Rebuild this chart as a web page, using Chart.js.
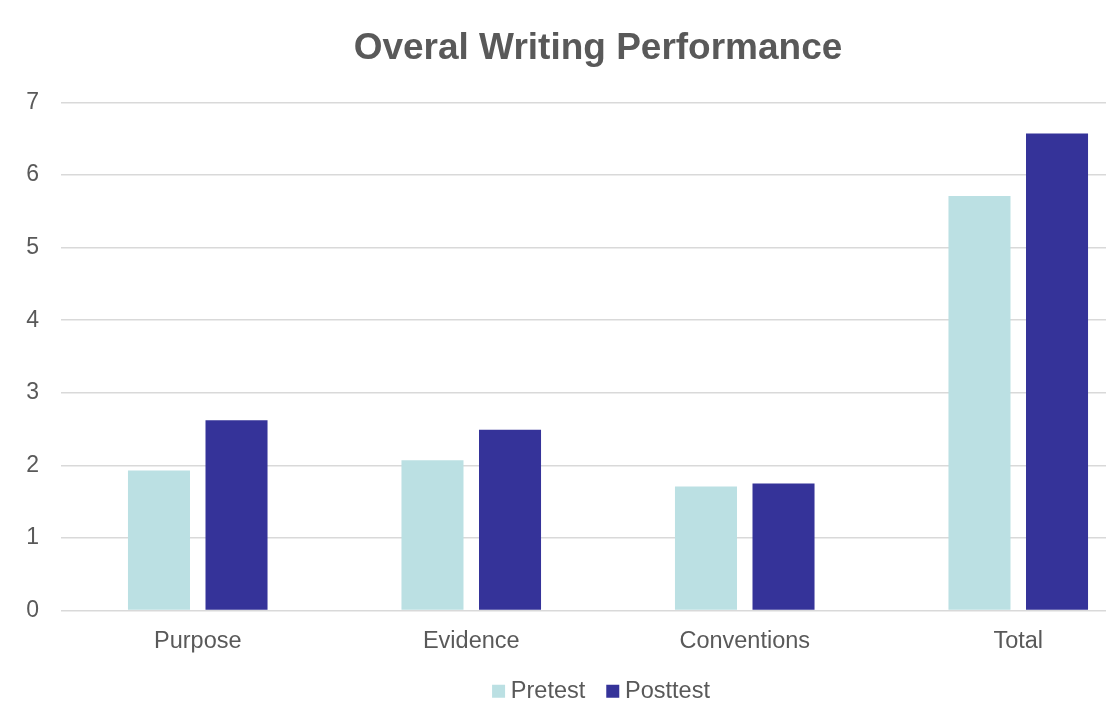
<!DOCTYPE html>
<html>
<head>
<meta charset="utf-8">
<script src="https://cdn.jsdelivr.net/npm/chart.js@4/dist/chart.umd.min.js"></script>
<style>
  html, body { margin: 0; padding: 0; background: #fff; overflow: hidden; }
  #wrap { width: 1106px; height: 702px; overflow: hidden; }
</style>
</head>
<body>
<div id="wrap"><canvas id="myChart" width="1196" height="713"></canvas></div>
<script>
const categories = ["Purpose", "Evidence", "Conventions", "Total"];
const pretest = [1.93, 2.07, 1.71, 5.71];
const posttest = [2.62, 2.49, 1.75, 6.57];
const yTicks = [0, 1, 2, 3, 4, 5, 6, 7];

const textColor = "#595959";
const gridColor = "#d9d9d9";
Chart.defaults.font.family = "'Liberation Sans', Arial, sans-serif";
Chart.defaults.color = textColor;

// nudge the legend a little to the right, like the original
const legendShift = {
  id: "legendShift",
  afterLayout(chart) {
    chart.legend.left += 6;
    chart.legend.right += 6;
  },
};

const ctx = document.getElementById("myChart").getContext("2d");

const myChart = new Chart(ctx, {
  type: "bar",
  data: {
    labels: categories,
    datasets: [
      {
        label: "Pretest",
        data: pretest,
        backgroundColor: "#bbe0e3",
        borderWidth: 0,
      },
      {
        label: "Posttest",
        data: posttest,
        backgroundColor: "#353399",
        borderWidth: 0,
      },
    ],
  },
  plugins: [legendShift],
  options: {
    responsive: false,
    animation: false,
    layout: { padding: 0 },
    datasets: {
      bar: { categoryPercentage: 0.567, barPercentage: 0.8 },
    },
    plugins: {
      title: {
        display: true,
        text: "Overal Writing Performance",
        color: textColor,
        font: { size: 37, weight: "bold" },
        padding: { top: 27, bottom: 31 },
      },
      legend: {
        position: "bottom",
        labels: {
          color: textColor,
          font: { size: 23.5 },
          usePointStyle: true,
          pointStyle: "rect",
          boxWidth: 1,
          boxHeight: 13,
          padding: 27,
        },
      },
      tooltip: { enabled: false },
    },
    scales: {
      x: {
        afterFit: (scale) => {
          scale.height = 42;
        },
        grid: { display: false, drawTicks: false },
        border: { display: false },
        ticks: { font: { size: 23.5 }, color: textColor, padding: 17 },
      },
      y: {
        min: 0,
        max: 7,
        afterBuildTicks: (scale) => {
          scale.ticks = yTicks.map((v) => ({ value: v }));
        },
        afterFit: (scale) => {
          scale.width = 61;
        },
        grid: { color: gridColor, lineWidth: 1.5, drawTicks: false },
        border: { display: false },
        ticks: { font: { size: 23 }, color: textColor, padding: 22 },
      },
      y2: {
        type: "linear",
        position: "right",
        grid: { display: false, drawOnChartArea: false },
        border: { display: false },
        ticks: { display: false },
        afterFit: (scale) => {
          scale.width = 41;
        },
      },
    },
  },
});
</script>
</body>
</html>
